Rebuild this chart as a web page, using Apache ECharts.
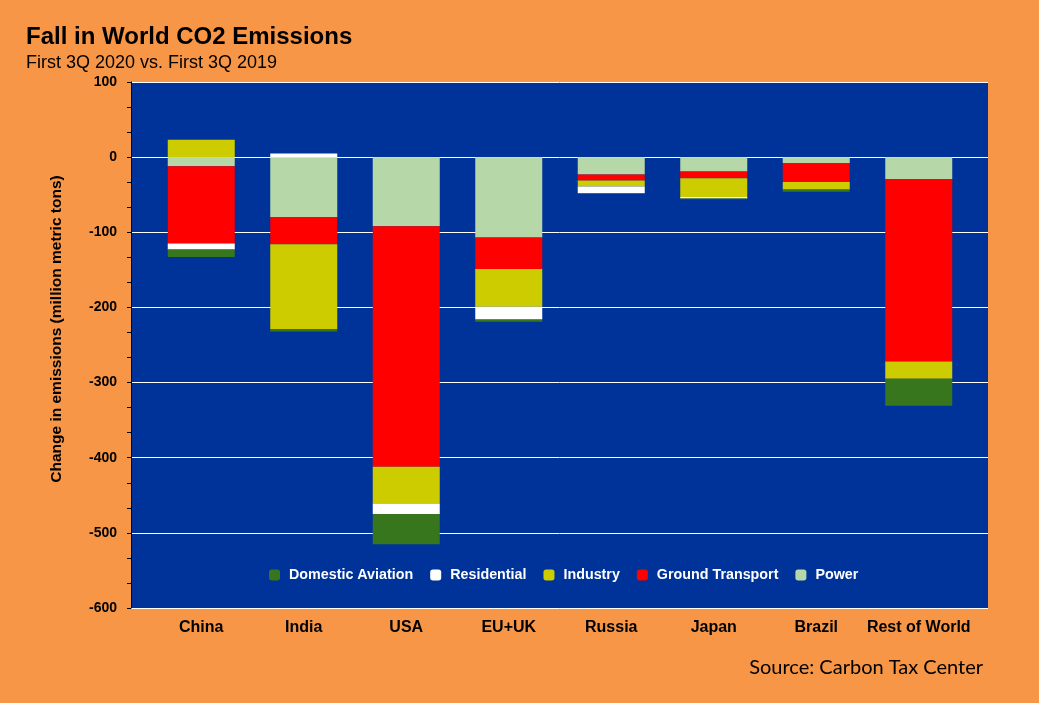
<!DOCTYPE html>
<html>
<head>
<meta charset="utf-8">
<script src="https://cdn.jsdelivr.net/npm/echarts@6/dist/echarts.min.js"></script>
<style>
html,body{margin:0;padding:0;background:#F79646;}
#c{width:1039px;height:703px;}
</style>
</head>
<body>
<div id="c"></div>
<script>
var categories = ['China','India','USA','EU+UK','Russia','Japan','Brazil','Rest of World'];
var power = [-12, -80, -92, -107, -23, -19, -8, -29];
var groundTransport = [-103, -36, -320, -42, -8, -9, -25, -243];
var industry = [23, -113, -49, -50, -8, -25, -10, -23];
var residential = [-8, 5, -14, -17, -9, -2, 0, 0];
var domesticAviation = [-10, -3, -40, -3, -1, -1, -3, -36];
var legendOrder = ['Domestic Aviation','Residential','Industry','Ground Transport','Power'];
var yMin = -600, yMax = 100, yStep = 100;

var chart = echarts.init(document.getElementById('c'));
var font = 'Liberation Sans, Arial, sans-serif';
function bar(name, data, color) {
  return {
    name: name, type: 'bar', stack: 'total', data: data, barWidth: 67,
    xAxisIndex: 0, yAxisIndex: 0,
    itemStyle: { color: color }
  };
}
chart.setOption({
  backgroundColor: '#F79646',
  animation: false,
  title: [
    { text: 'Fall in World CO2 Emissions', left: 26, top: 25, padding: 0,
      textStyle: { fontFamily: font, fontSize: 24, fontWeight: 'bold', color: '#000' } },
    { text: 'First 3Q 2020 vs. First 3Q 2019', left: 26, top: 54, padding: 0,
      textStyle: { fontFamily: font, fontSize: 18, fontWeight: 'normal', color: '#000' } }
  ],
  graphic: [
    { type: 'text', x: 57, y: 329, rotation: Math.PI / 2,
      style: { text: 'Change in emissions (million metric tons)', fontFamily: font, fontSize: 15.5,
        fontWeight: 'bold', fill: '#000', align: 'center', verticalAlign: 'middle' } },
    { type: 'text', x: 983, y: 668,
      style: { text: 'Source: Carbon Tax Center', fontFamily: 'Lato, Open Sans, sans-serif', fontSize: 20,
        fill: '#000', align: 'right', verticalAlign: 'middle' } }
  ],
  legend: {
    data: legendOrder, left: 264, top: 563, itemWidth: 11, itemHeight: 11, itemGap: 17,
    icon: 'roundRect',
    textStyle: { color: '#fff', fontFamily: font, fontSize: 14.3, fontWeight: 'bold', padding: [0, 0, 0, 4] }
  },
  grid: [
    { left: 150, top: 82, right: 69, bottom: 95 },
    { left: 131, top: 82, right: 51, bottom: 95, backgroundColor: '#003399', show: true, borderWidth: 0 }
  ],
  xAxis: [
    {
      type: 'category', data: categories, gridIndex: 0,
      axisLine: { show: false }, axisTick: { show: false },
      axisLabel: { interval: 0, color: '#000', fontFamily: font, fontSize: 16, fontWeight: 'bold', margin: 12 }
    },
    { type: 'value', gridIndex: 1, show: false }
  ],
  yAxis: [
    {
      type: 'value', gridIndex: 0, min: yMin, max: yMax, interval: yStep, show: false,
      splitLine: { show: false }
    },
    {
      type: 'value', gridIndex: 1, min: yMin, max: yMax, interval: yStep,
      axisLine: { show: true, lineStyle: { color: '#000', width: 1 } },
      axisTick: { show: true, length: 4, lineStyle: { color: '#000' } },
      minorTick: { show: true, splitNumber: 3, length: 4, lineStyle: { color: '#000' } },
      splitLine: { show: true, lineStyle: { color: '#fff', width: 1 } },
      axisLabel: { color: '#000', fontFamily: font, fontSize: 14, fontWeight: 'bold', margin: 14 }
    }
  ],
  series: [
    bar('Power', power, '#B6D7A8'),
    bar('Ground Transport', groundTransport, '#FF0000'),
    bar('Industry', industry, '#CCCC00'),
    bar('Residential', residential, '#FFFFFF'),
    bar('Domestic Aviation', domesticAviation, '#38761D')
  ]
});
</script>
</body>
</html>
